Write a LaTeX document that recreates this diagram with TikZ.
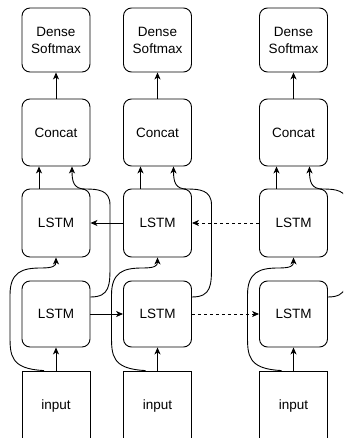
\documentclass[tikz,border=0pt]{standalone}
\usepackage{fontspec}
\setmainfont{Liberation Sans}
\usetikzlibrary{arrows.meta}
\begin{document}
\begin{tikzpicture}[x=1pt,y=-1pt,
  box/.style={draw=black, line width=0.9pt, rounded corners=8pt, minimum width=68pt, align=center,
    font=\fontsize{13.5}{17}\selectfont, inner sep=0pt},
  inbox/.style={draw=black, line width=0.9pt, minimum width=68pt, minimum height=70pt,
    font=\fontsize{13.5}{17}\selectfont, inner sep=0pt},
  arr/.style={draw=black, line width=0.9pt, -{Stealth[length=7pt,width=6pt,inset=2pt]}},
  dsh/.style={arr, dash pattern=on 3pt off 3pt}]
\useasboundingbox (0,0) rectangle (343,438);
\clip (0,0) rectangle (343,438);
\foreach \i/\C in {1/56, 2/157.5, 3/293.5}{
  \node[box, minimum height=64pt] (dense\i) at (\C,40) {Dense\\Softmax};
  \node[box, minimum height=67pt] (concat\i) at (\C,132.5) {Concat};
  \node[box, minimum height=68pt] (lstmt\i) at (\C,223) {LSTM};
  \node[box, minimum height=66pt] (lstmb\i) at (\C,314) {LSTM};
  \node[inbox] (input\i) at (\C,406) {input};
  \draw[arr] (concat\i) -- (dense\i);
  \draw[arr] ([xshift=-17pt]lstmt\i.north) -- ([xshift=-17pt]concat\i.south);
  \draw[arr] (input\i) -- (lstmb\i);
  \pgfmathsetmacro{\L}{\C-34}
  \pgfmathsetmacro{\R}{\C+34}
  % right curve: lower LSTM -> Concat
  \draw[arr] ([yshift=17pt]lstmb\i.east) .. controls (\R+20,297) and (\R+20,285) .. (\R+20,265)
    -- (\R+20,205) .. controls (\R+20,190) and (\R+8,189) .. (\R-5,189)
    .. controls (\C+18,189) and (\C+16,182) .. ([xshift=16pt]concat\i.south);
  % left curve: input -> upper LSTM
  \draw[arr] ([xshift=-12pt]input\i.north) .. controls (\L-12,369) and (\L-12,355) .. (\L-12,335)
    -- (\L-12,295) .. controls (\L-12,272) and (\L,268) .. (\C-15,268)
    .. controls (\C-3,268) and (\C,266) .. (lstmt\i.south);
}
\draw[arr] (lstmt2) -- (lstmt1);
\draw[dsh] (lstmt3) -- (lstmt2);
\draw[arr] (lstmb1) -- (lstmb2);
\draw[dsh] (lstmb2) -- (lstmb3);
\end{tikzpicture}
\end{document}
